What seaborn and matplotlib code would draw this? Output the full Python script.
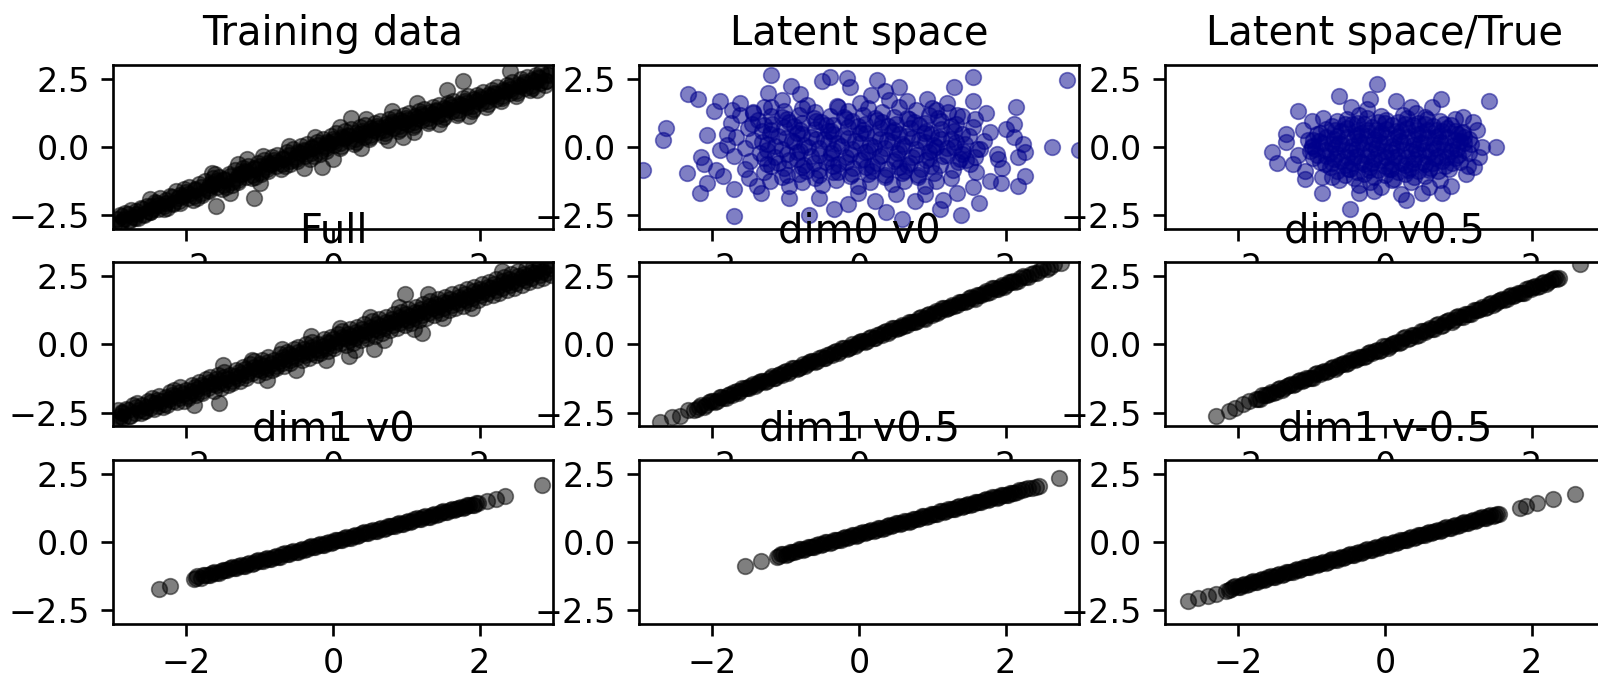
import matplotlib
matplotlib.use("Agg")
import matplotlib.pyplot as plt
import seaborn as sns

titles = ["Training data", "Latent space", "Latent space/True",
          "Full", "dim0 v0", "dim0 v0.5",
          "dim1 v0", "dim1 v0.5", "dim1 v-0.5"]

# observed training pairs (x, y)
training = [
    (-2.98, -2.85), (-2.94, -2.62), (-2.91, -2.48), (-2.83, -2.40), (-2.89, -2.78), (-2.85, -2.62),
    (-2.71, -2.55), (-2.76, -2.30), (-2.78, -2.72), (-2.62, -2.22), (-2.66, -2.60), (-2.68, -2.45),
    (-2.58, -2.48), (-2.54, -2.15), (-2.51, -2.35), (-2.49, -1.91), (-2.43, -2.02), (-2.49, -2.38),
    (-2.45, -2.25), (-2.31, -2.28), (-2.36, -1.85), (-2.38, -2.12), (-2.22, -1.80), (-2.26, -2.22),
    (-2.28, -2.05), (-2.18, -2.10), (-2.14, -1.62), (-2.11, -1.88), (-2.03, -1.55), (-2.09, -2.05),
    (-2.05, -1.78), (-1.91, -1.95), (-1.96, -1.48), (-1.98, -1.72), (-1.82, -1.35), (-1.86, -1.85),
    (-1.88, -1.58), (-1.78, -1.75), (-1.74, -1.25), (-1.71, -1.50), (-1.63, -1.15), (-1.69, -1.62),
    (-1.65, -1.38), (-1.61, -0.99), (-1.59, -2.16), (-1.51, -1.55), (-1.56, -1.08), (-1.58, -1.30),
    (-1.42, -0.98), (-1.46, -1.45), (-1.48, -1.20), (-1.38, -1.38), (-1.34, -0.85), (-1.31, -1.12),
    (-1.23, -0.78), (-1.29, -1.28), (-1.25, -1.00), (-1.17, -0.43), (-1.07, -1.85), (-1.11, -1.15),
    (-1.16, -0.68), (-1.18, -0.92), (-1.02, -0.60), (-1.06, -1.08), (-1.08, -0.82), (-0.98, -0.98),
    (-0.94, -0.48), (-0.91, -0.72), (-0.83, -0.38), (-0.89, -0.88), (-0.85, -0.62), (-0.71, -0.80),
    (-0.76, -0.28), (-0.78, -0.55), (-0.62, -0.20), (-0.66, -0.70), (-0.68, -0.42), (-0.58, -0.62),
    (-0.54, -0.08), (-0.51, -0.35), (-0.43, 0.02), (-0.49, -0.52), (-0.45, -0.22), (-0.31, -0.42),
    (-0.36, 0.12), (-0.38, -0.15), (-0.22, 0.20), (-0.26, -0.32), (-0.28, -0.05), (-0.18, -0.25),
    (-0.14, 0.30), (-0.11, 0.05), (-0.15, -0.74), (-0.03, 0.42), (-0.09, -0.15), (-0.05, 0.15),
    (0.09, -0.05), (0.04, 0.50), (0.02, 0.22), (0.17, 0.58), (0.11, 0.05), (0.15, 0.32),
    (0.24, 1.05), (0.29, 0.12), (0.24, 0.65), (0.21, 0.40), (0.37, 0.72), (0.31, 0.20),
    (0.35, 0.48), (0.49, 0.28), (0.44, 0.80), (0.41, 0.52), (0.57, 0.88), (0.51, 0.35),
    (0.55, 0.62), (0.69, 0.42), (0.64, 0.95), (0.61, 0.70), (0.77, 1.02), (0.71, 0.50),
    (0.75, 0.78), (0.89, 0.58), (0.84, 1.10), (0.81, 0.85), (0.97, 1.18), (0.91, 0.65),
    (0.95, 0.92), (0.95, 0.37), (1.09, 0.72), (1.04, 1.25), (1.01, 1.00), (1.17, 1.32),
    (1.11, 0.80), (1.15, 1.08), (1.29, 0.88), (1.24, 1.40), (1.21, 1.15), (1.37, 1.48),
    (1.31, 0.95), (1.35, 1.22), (1.49, 1.02), (1.44, 1.55), (1.41, 1.30), (1.57, 1.62),
    (1.51, 1.10), (1.55, 1.38), (1.56, 2.10), (1.69, 1.18), (1.64, 1.70), (1.61, 1.45),
    (1.77, 1.78), (1.71, 1.25), (1.75, 1.52), (1.78, 2.41), (1.89, 1.32), (1.84, 1.85),
    (1.81, 1.60), (1.97, 1.92), (1.91, 1.40), (1.95, 1.68), (2.09, 1.48), (2.04, 2.00),
    (2.01, 1.75), (2.17, 2.08), (2.11, 1.58), (2.15, 1.85), (2.29, 1.68), (2.24, 2.18),
    (2.21, 1.95), (2.37, 2.28), (2.31, 1.78), (2.35, 2.05), (2.49, 1.88), (2.44, 2.38),
    (2.41, 2.12), (2.41, 2.78), (2.57, 2.48), (2.51, 1.98), (2.55, 2.22), (2.69, 2.08),
    (2.64, 2.58), (2.61, 2.32), (2.77, 2.65), (2.71, 2.15), (2.75, 2.42), (2.78, 2.10),
    (2.89, 2.28), (2.84, 2.75), (2.81, 2.52), (2.97, 2.82), (2.91, 2.40), (2.95, 2.62),
    (-0.60, 0.05), (-0.25, 0.38), (0.10, 0.72), (0.45, 1.02), (0.80, 1.30), (1.15, 1.60),
    (-0.95, -0.32), (-1.30, -0.62), (-1.65, -0.95), (-0.40, -0.78), (0.00, -0.42), (0.38, -0.05),
    (0.75, 0.25), (1.10, 0.55), (1.45, 0.85), (1.85, 1.15), (-1.00, -1.32), (-1.40, -1.68),
    (-2.90, -2.75), (-2.88, -2.52), (-2.80, -2.45), (-2.78, -2.66), (-2.70, -2.58), (-2.68, -2.35),
    (-2.60, -2.25), (-2.58, -2.46), (-2.50, -2.38), (-2.48, -2.15), (-2.40, -2.05), (-2.38, -2.27),
    (-2.30, -2.17), (-2.28, -1.94), (-2.20, -1.84), (-2.18, -2.06), (-2.10, -1.97), (-2.08, -1.74),
    (-2.00, -1.64), (-1.98, -1.86), (-1.90, -1.78), (-1.88, -1.55), (-1.80, -1.45), (-1.78, -1.67),
    (-1.70, -1.58), (-1.68, -1.35), (-1.60, -1.26), (-1.58, -1.48), (-1.50, -1.39), (-1.48, -1.16),
    (-1.40, -1.06), (-1.38, -1.28), (-1.30, -1.20), (-1.28, -0.97), (-1.20, -0.87), (-1.18, -1.09),
    (-1.10, -1.01), (-1.08, -0.78), (-1.00, -0.68), (-0.98, -0.90), (-0.90, -0.81), (-0.88, -0.58),
    (-0.80, -0.49), (-0.78, -0.71), (-0.70, -0.62), (-0.68, -0.39), (-0.60, -0.29), (-0.58, -0.51),
    (-0.50, -0.43), (-0.48, -0.20), (-0.40, -0.10), (-0.38, -0.32), (-0.30, -0.23), (-0.28, 0.00),
    (-0.20, 0.09), (-0.18, -0.13), (-0.10, -0.04), (-0.08, 0.19), (0.00, 0.29), (0.02, 0.07),
    (0.10, 0.14), (0.12, 0.37), (0.20, 0.45), (0.22, 0.23), (0.30, 0.30), (0.32, 0.53),
    (0.40, 0.60), (0.42, 0.38), (0.50, 0.45), (0.52, 0.68), (0.60, 0.76), (0.62, 0.54),
    (0.70, 0.61), (0.72, 0.84), (0.80, 0.91), (0.82, 0.69), (0.90, 0.76), (0.92, 0.99),
    (1.00, 1.07), (1.02, 0.85), (1.10, 0.91), (1.12, 1.14), (1.20, 1.22), (1.22, 1.00),
    (1.30, 1.06), (1.32, 1.29), (1.40, 1.37), (1.42, 1.15), (1.50, 1.21), (1.52, 1.44),
    (1.60, 1.52), (1.62, 1.30), (1.70, 1.36), (1.72, 1.59), (1.80, 1.67), (1.82, 1.45),
    (1.90, 1.51), (1.92, 1.74), (2.00, 1.82), (2.02, 1.60), (2.10, 1.67), (2.12, 1.90),
    (2.20, 1.99), (2.22, 1.77), (2.30, 1.86), (2.32, 2.09), (2.40, 2.18), (2.42, 1.96),
    (2.50, 2.05), (2.52, 2.28), (2.60, 2.37), (2.62, 2.15), (2.70, 2.24), (2.72, 2.47),
    (2.80, 2.56), (2.82, 2.34), (2.90, 2.43), (2.92, 2.66),
]

# encoded latent codes (z0, z1)
latent = [
    (-1.20, 1.47), (-0.78, 1.42), (-0.30, 1.50), (0.12, 1.44), (0.55, 1.48), (1.00, 1.41),
    (-1.45, 1.28), (-1.02, 1.33), (-0.60, 1.27), (-0.15, 1.32), (0.32, 1.29), (0.78, 1.34), (1.22, 1.27),
    (-1.62, 1.17), (-1.20, 1.12), (-0.82, 1.18), (-0.40, 1.13), (0.05, 1.16), (0.48, 1.11), (0.95, 1.18), (1.40, 1.14),
    (-1.38, 0.98), (-0.98, 1.03), (-0.58, 0.97), (-0.18, 1.02), (0.25, 0.99), (0.68, 1.04), (1.12, 0.97), (1.58, 1.01),
    (-1.75, 0.87), (-1.18, 0.83), (-0.78, 0.88), (-0.35, 0.82), (0.08, 0.86), (0.50, 0.84), (0.90, 0.88), (1.32, 0.83),
    (-1.52, 0.68), (-1.02, 0.72), (-0.60, 0.67), (-0.15, 0.73), (0.28, 0.69), (0.70, 0.71), (1.12, 0.66), (1.55, 0.72),
    (-1.32, 0.57), (-0.85, 0.53), (-0.42, 0.58), (0.02, 0.52), (0.45, 0.56), (0.88, 0.53), (1.30, 0.58), (1.78, 0.54),
    (-1.68, 0.38), (-1.10, 0.42), (-0.65, 0.37), (-0.22, 0.43), (0.22, 0.39), (0.65, 0.41), (1.08, 0.36), (1.50, 0.42),
    (-1.45, 0.27), (-0.92, 0.23), (-0.48, 0.28), (-0.05, 0.22), (0.38, 0.26), (0.82, 0.24), (1.25, 0.28), (1.70, 0.23),
    (-1.80, 0.08), (-1.25, 0.12), (-0.75, 0.07), (-0.30, 0.13), (0.15, 0.09), (0.58, 0.11), (1.02, 0.06), (1.45, 0.12),
    (-1.55, -0.03), (-1.05, -0.08), (-0.55, -0.02), (-0.10, -0.07), (0.35, -0.04), (0.78, -0.08), (1.20, -0.03), (1.65, -0.06),
    (-1.35, -0.22), (-0.85, -0.18), (-0.38, -0.23), (0.08, -0.17), (0.52, -0.21), (0.95, -0.19), (1.40, -0.24),
    (-1.70, -0.33), (-1.15, -0.37), (-0.65, -0.32), (-0.18, -0.38), (0.28, -0.34), (0.72, -0.36), (1.15, -0.31), (1.58, -0.37),
    (-1.48, -0.52), (-0.95, -0.48), (-0.45, -0.53), (0.02, -0.47), (0.48, -0.51), (0.92, -0.49), (1.35, -0.54),
    (-1.25, -0.63), (-0.75, -0.67), (-0.28, -0.62), (0.18, -0.68), (0.65, -0.64), (1.10, -0.66), (1.52, -0.61),
    (-1.55, -0.82), (-1.02, -0.78), (-0.55, -0.83), (-0.08, -0.77), (0.38, -0.81), (0.85, -0.79), (1.28, -0.84),
    (-1.30, -0.93), (-0.82, -0.97), (-0.35, -0.92), (0.12, -0.98), (0.58, -0.94), (1.02, -0.96),
    (-1.50, -1.12), (-1.05, -1.08), (-0.60, -1.13), (-0.12, -1.07), (0.35, -1.11), (0.80, -1.09), (1.25, -1.14),
    (-1.22, -1.23), (-0.78, -1.27), (-0.32, -1.22), (0.15, -1.28), (0.62, -1.24), (1.05, -1.26),
    (-0.95, -1.42), (-0.50, -1.38), (-0.02, -1.43), (0.45, -1.37), (0.90, -1.41),
    (-0.95, 0.93), (-0.52, 0.90), (-0.10, 0.94), (0.32, 0.91), (0.75, 0.92),
    (-1.20, 0.61), (-0.80, 0.64), (-0.38, 0.60), (0.05, 0.63), (0.48, 0.62), (0.92, 0.60),
    (-1.00, 0.33), (-0.58, 0.30), (-0.15, 0.34), (0.28, 0.31), (0.72, 0.32), (1.12, 0.30),
    (-1.15, 0.03), (-0.70, 0.00), (-0.25, 0.04), (0.20, 0.01), (0.62, 0.02), (1.05, 0.00),
    (-0.98, -0.27), (-0.55, -0.30), (-0.12, -0.26), (0.32, -0.29), (0.78, -0.28), (1.20, -0.30),
    (-1.10, -0.57), (-0.62, -0.60), (-0.18, -0.56), (0.25, -0.59), (0.70, -0.58),
    (-0.72, -0.87), (-0.28, -0.90), (0.18, -0.86), (0.62, -0.89),
    (-1.05, 1.09), (-0.62, 1.07), (-0.20, 1.10), (0.22, 1.06), (0.65, 1.08), (1.08, 1.07),
    (-1.30, 0.79), (-0.88, 0.77), (-0.45, 0.80), (-0.02, 0.76), (0.40, 0.78), (0.82, 0.80), (1.25, 0.77),
    (-1.22, 0.47), (-0.78, 0.49), (-0.35, 0.46), (0.10, 0.50), (0.55, 0.47), (0.98, 0.49), (1.40, 0.46),
    (-1.32, 0.19), (-0.88, 0.17), (-0.42, 0.20), (0.02, 0.16), (0.45, 0.18), (0.90, 0.20), (1.32, 0.17),
    (-1.25, -0.11), (-0.80, -0.13), (-0.35, -0.10), (0.12, -0.14), (0.55, -0.12), (1.00, -0.10), (1.42, -0.13),
    (-1.30, -0.41), (-0.85, -0.43), (-0.40, -0.40), (0.05, -0.44), (0.50, -0.42), (0.95, -0.40), (1.38, -0.43),
    (-1.20, -0.71), (-0.78, -0.73), (-0.35, -0.70), (0.10, -0.74), (0.55, -0.72), (0.98, -0.70),
    (-0.98, -1.01), (-0.55, -1.03), (-0.10, -1.00), (0.35, -1.04), (0.80, -1.02),
    (-1.20, 2.65), (-2.33, 1.94), (-2.20, 1.75), (-2.63, 0.70), (-2.67, 0.25), (-2.94, -0.83),
    (-2.07, 0.43), (-2.15, -0.37), (-2.12, -0.62), (-2.17, -1.70), (-2.07, -1.30), (-1.71, -1.54),
    (-1.71, -2.51), (-1.90, 1.67), (-1.98, 1.30), (-1.73, 1.36), (-1.80, 0.49), (-1.90, -0.12),
    (-1.24, 1.98), (-1.05, 1.73), (-0.93, 2.22), (-0.51, 2.41), (-0.39, 2.57), (-0.17, 2.51),
    (-0.12, 2.20), (0.24, 2.47), (0.54, 2.20), (0.93, 1.75), (1.29, 2.20), (1.55, 2.57),
    (1.56, 1.67), (1.73, 1.23), (2.14, 1.48), (2.11, 0.86), (2.12, 0.37), (2.24, 0.12),
    (2.26, -0.19), (2.17, -0.37), (2.26, -1.07), (2.17, -1.42), (2.63, 0.00), (2.83, 2.47),
    (3.00, -0.12), (1.63, -2.06), (1.39, -2.47), (1.10, -2.28), (0.59, -2.65), (0.37, -2.38),
    (-0.15, -2.10), (-0.34, -2.28), (-0.68, -2.47), (-0.95, -1.85), (-1.39, -1.42), (-1.34, -1.67),
    (1.88, -0.25), (1.90, -0.43), (1.59, -0.93), (1.78, -1.23), (1.93, -1.30), (1.34, -1.67),
    (1.56, -1.48), (0.51, -1.73), (0.90, -1.73), (-0.02, -1.67), (0.22, -1.98), (0.76, -1.98),
    (1.61, -0.06), (1.46, -0.49), (1.29, 0.00), (1.20, 1.60), (1.34, 1.17), (1.05, 1.36),
    (0.66, 1.67), (0.41, 1.73), (0.17, 1.91), (0.02, 1.60), (-0.29, 1.48), (-0.71, 1.54),
    (-1.44, 1.23), (-1.29, 1.48), (-1.46, 0.86), (-1.95, -0.85), (-2.35, -0.95), (-1.85, -1.05),
    (2.00, 0.65), (1.95, -0.75), (-0.55, -1.85), (1.15, -1.95), (-1.62, 1.62), (0.35, 2.05),
    (-0.80, 1.95),
]

# samples from the standard normal prior
prior = [
    (-0.35, 1.18), (-0.05, 1.13), (0.25, 1.19), (0.55, 1.11),
    (-0.52, 1.03), (-0.25, 1.05), (0.02, 1.00), (0.30, 1.06), (0.58, 1.01),
    (-0.65, 0.95), (-0.38, 0.87), (-0.10, 0.91), (0.18, 0.93), (0.45, 0.88), (0.75, 0.94),
    (-0.72, 0.77), (-0.45, 0.83), (-0.18, 0.75), (0.10, 0.79), (0.38, 0.81), (0.65, 0.76), (0.90, 0.82),
    (-0.80, 0.65), (-0.52, 0.71), (-0.25, 0.63), (0.02, 0.67), (0.30, 0.69), (0.58, 0.64), (0.85, 0.70),
    (-0.88, 0.53), (-0.60, 0.59), (-0.32, 0.51), (-0.05, 0.55), (0.22, 0.57), (0.50, 0.52), (0.78, 0.58), (1.05, 0.53),
    (-0.92, 0.47), (-0.65, 0.39), (-0.38, 0.43), (-0.10, 0.45), (0.18, 0.40), (0.45, 0.46), (0.72, 0.41), (1.00, 0.47),
    (-0.98, 0.27), (-0.70, 0.31), (-0.42, 0.33), (-0.15, 0.28), (0.12, 0.34), (0.40, 0.29), (0.68, 0.35), (0.95, 0.27), (1.15, 0.31),
    (-0.90, 0.21), (-0.62, 0.16), (-0.35, 0.22), (-0.08, 0.17), (0.20, 0.23), (0.48, 0.15), (0.75, 0.19), (1.02, 0.21),
    (-1.00, 0.04), (-0.72, 0.10), (-0.45, 0.05), (-0.18, 0.11), (0.10, 0.03), (0.38, 0.07), (0.65, 0.09), (0.92, 0.04), (1.18, 0.10),
    (-0.95, -0.07), (-0.68, -0.01), (-0.40, -0.09), (-0.12, -0.05), (0.15, -0.03), (0.42, -0.08), (0.70, -0.02), (0.98, -0.07),
    (-1.02, -0.13), (-0.75, -0.21), (-0.48, -0.17), (-0.20, -0.15), (0.08, -0.20), (0.35, -0.14), (0.62, -0.19), (0.90, -0.13), (1.15, -0.21),
    (-0.92, -0.29), (-0.65, -0.27), (-0.38, -0.32), (-0.10, -0.26), (0.18, -0.31), (0.45, -0.25), (0.72, -0.33), (1.00, -0.29),
    (-0.98, -0.39), (-0.70, -0.44), (-0.42, -0.38), (-0.15, -0.43), (0.12, -0.37), (0.40, -0.45), (0.68, -0.41), (0.95, -0.39),
    (-0.88, -0.56), (-0.60, -0.50), (-0.32, -0.55), (-0.05, -0.49), (0.22, -0.57), (0.50, -0.53), (0.78, -0.51), (1.02, -0.56),
    (-0.82, -0.62), (-0.55, -0.67), (-0.28, -0.61), (0.00, -0.69), (0.28, -0.65), (0.55, -0.63), (0.82, -0.68),
    (-0.75, -0.74), (-0.48, -0.79), (-0.20, -0.73), (0.08, -0.81), (0.35, -0.77), (0.62, -0.75), (0.88, -0.80),
    (-0.65, -0.86), (-0.38, -0.91), (-0.10, -0.85), (0.18, -0.93), (0.45, -0.89), (0.72, -0.87),
    (-0.55, -1.04), (-0.28, -0.98), (0.00, -1.03), (0.28, -0.97), (0.55, -1.05),
    (-0.42, -1.13), (-0.15, -1.11), (0.12, -1.16), (0.40, -1.10),
    (-0.20, -1.27), (0.10, -1.21), (0.35, -1.29),
    (-0.55, 0.86), (-0.28, 0.84), (0.00, 0.87), (0.28, 0.85), (0.55, 0.83), (0.80, 0.86),
    (-0.68, 0.62), (-0.40, 0.60), (-0.12, 0.63), (0.15, 0.59), (0.42, 0.61), (0.70, 0.62), (0.95, 0.60),
    (-0.80, 0.38), (-0.52, 0.36), (-0.25, 0.39), (0.02, 0.35), (0.30, 0.37), (0.58, 0.38), (0.85, 0.36), (1.08, 0.38),
    (-0.85, 0.14), (-0.58, 0.12), (-0.30, 0.15), (-0.02, 0.11), (0.25, 0.13), (0.52, 0.14), (0.80, 0.12), (1.08, 0.14),
    (-0.82, -0.10), (-0.55, -0.12), (-0.28, -0.09), (0.00, -0.13), (0.28, -0.11), (0.55, -0.10), (0.82, -0.12), (1.08, -0.10),
    (-0.80, -0.34), (-0.52, -0.36), (-0.25, -0.33), (0.02, -0.37), (0.30, -0.35), (0.58, -0.34), (0.85, -0.36),
    (-0.72, -0.58), (-0.45, -0.60), (-0.18, -0.57), (0.10, -0.61), (0.38, -0.59), (0.65, -0.58), (0.92, -0.60),
    (-0.50, -0.82), (-0.22, -0.84), (0.05, -0.81), (0.32, -0.85), (0.60, -0.83),
    (-1.12, 0.62), (-1.18, -0.30), (1.25, 0.62), (1.28, -0.38), (0.95, 1.02), (-0.85, 1.05),
    (-0.62, -1.20), (0.75, -1.22), (1.20, 0.92), (-1.00, 0.95), (0.35, 1.45), (-0.25, 1.40),
    (0.60, -1.45), (-0.35, -1.38), (1.22, -0.72), (-1.25, -0.62),
    (-0.11, 2.32), (-0.62, 1.85), (1.42, 1.67), (0.76, 1.77), (-1.19, 1.33), (-1.35, 0.49),
    (-1.35, 0.19), (-1.54, -0.19), (-1.47, -0.59), (-1.09, -0.86), (-1.09, -1.17), (-0.86, -1.70),
    (-0.47, -2.25), (-0.35, -1.70), (-0.15, -1.60), (0.29, -1.95), (0.50, -1.70), (0.78, -1.70),
    (0.90, -1.42), (1.11, -0.99), (1.14, -0.70), (1.32, 0.00), (1.51, 0.00), (1.07, 1.09),
    (1.07, 0.56), (0.64, 1.48), (0.15, 1.67), (-0.20, 1.75), (-0.46, 1.48), (0.43, 1.23),
    (0.22, -1.73), (-0.06, -1.48), (-0.72, -1.11), (-0.86, -1.09), (-1.00, 0.00), (-1.05, 0.25),
]

# full reconstruction
full = [
    (-2.93, -2.40), (-2.97, -2.85), (-2.90, -2.60), (-2.86, -2.70), (-2.82, -2.35), (-2.88, -2.52),
    (-2.73, -2.22), (-2.77, -2.62), (-2.62, -2.50), (-2.67, -2.15), (-2.64, -2.38),
    (-2.57, -2.45), (-2.52, -2.05), (-2.55, -2.28), (-2.44, -2.37), (-2.47, -1.95), (-2.42, -2.15),
    (-2.32, -2.30), (-2.37, -1.88), (-2.34, -2.06), (-2.22, -1.75), (-2.27, -2.20), (-2.24, -1.98),
    (-2.17, -1.65), (-2.13, -2.12), (-2.15, -1.90), (-2.03, -2.05), (-2.08, -1.55), (-2.05, -1.80),
    (-1.92, -1.48), (-1.97, -1.95), (-1.94, -1.70), (-1.87, -1.85), (-1.83, -1.38), (-1.85, -1.62),
    (-1.73, -1.28), (-1.78, -1.78), (-1.75, -1.52), (-1.62, -1.70), (-1.67, -1.18), (-1.64, -1.45),
    (-1.57, -1.10), (-1.53, -1.58), (-1.56, -2.13), (-1.55, -1.35), (-1.43, -1.50), (-1.48, -1.00),
    (-1.45, -1.25), (-1.32, -0.92), (-1.37, -1.40), (-1.34, -1.15), (-1.27, -1.32), (-1.23, -0.82),
    (-1.25, -1.08), (-1.13, -0.72), (-1.18, -1.22), (-1.15, -0.98), (-1.02, -1.12), (-1.07, -0.62),
    (-1.04, -0.88), (-0.97, -0.55), (-0.93, -1.02), (-0.95, -0.80), (-0.83, -0.95), (-0.88, -0.45),
    (-0.85, -0.70), (-0.72, -0.35), (-0.77, -0.85), (-0.74, -0.60), (-0.67, -0.78), (-0.63, -0.28),
    (-0.65, -0.52), (-0.53, -0.18), (-0.58, -0.68), (-0.55, -0.42), (-0.42, -0.58), (-0.47, -0.08),
    (-0.44, -0.34), (-0.37, 0.02), (-0.33, -0.48), (-0.35, -0.25), (-0.23, -0.40), (-0.28, 0.10),
    (-0.25, -0.15), (-0.12, 0.20), (-0.17, -0.30), (-0.14, -0.05), (-0.07, -0.22), (-0.03, 0.28),
    (-0.05, 0.04), (0.07, 0.38), (0.02, -0.12), (0.05, 0.12), (0.18, -0.02), (0.13, 0.48),
    (0.16, 0.22), (0.22, -0.43), (0.23, 0.55), (0.27, 0.05), (0.25, 0.32), (0.38, 0.15),
    (0.33, 0.65), (0.36, 0.40), (0.43, 0.75), (0.47, 0.25), (0.45, 0.50), (0.58, 0.32),
    (0.53, 0.85), (0.56, 0.58), (0.56, -0.18), (0.63, 0.92), (0.67, 0.42), (0.65, 0.68),
    (0.78, 0.52), (0.73, 1.02), (0.76, 0.78), (0.83, 1.10), (0.87, 0.60), (0.85, 0.85),
    (0.98, 0.70), (0.93, 1.20), (0.96, 0.95), (0.98, 1.83), (1.03, 1.30), (1.07, 0.80),
    (1.05, 1.05), (1.18, 0.88), (1.13, 1.38), (1.16, 1.14), (1.23, 1.48), (1.27, 0.98),
    (1.25, 1.22), (1.22, 0.43), (1.38, 1.08), (1.33, 1.58), (1.36, 1.32), (1.43, 1.65),
    (1.47, 1.15), (1.45, 1.42), (1.58, 1.25), (1.53, 1.75), (1.56, 1.50), (1.63, 1.85),
    (1.67, 1.35), (1.65, 1.60), (1.78, 1.42), (1.73, 1.92), (1.76, 1.68), (1.83, 2.02),
    (1.87, 1.52), (1.85, 1.78), (1.98, 1.62), (1.93, 2.12), (1.96, 1.88), (2.03, 2.22),
    (2.07, 1.72), (2.05, 1.96), (2.18, 1.80), (2.13, 2.30), (2.16, 2.05), (2.23, 2.40),
    (2.27, 1.90), (2.25, 2.15), (2.38, 2.00), (2.33, 2.48), (2.36, 2.25), (2.43, 2.58),
    (2.47, 2.08), (2.45, 2.32), (2.58, 2.18), (2.53, 2.68), (2.56, 2.42), (2.63, 2.78),
    (2.67, 2.28), (2.65, 2.52), (2.78, 2.35), (2.73, 2.85), (2.76, 2.62), (2.83, 2.95),
    (2.87, 2.45), (2.85, 2.70), (2.98, 2.55), (2.93, 2.92), (2.96, 2.80),
    (-1.10, -0.55), (-0.70, -0.15), (-0.30, 0.30), (0.10, 0.62), (0.50, 1.00), (0.90, 1.38),
    (-0.90, -1.30), (-0.50, -0.92), (-0.10, -0.55), (0.30, -0.20), (0.70, 0.18), (1.10, 0.55),
    (1.50, 0.98), (1.90, 1.35), (-1.50, -0.75), (-1.90, -2.20), (1.30, 1.85), (2.30, 2.70),
    (-2.90, -2.70), (-2.88, -2.47), (-2.80, -2.39), (-2.78, -2.61), (-2.70, -2.52), (-2.68, -2.29),
    (-2.60, -2.20), (-2.58, -2.42), (-2.50, -2.34), (-2.48, -2.11), (-2.40, -2.02), (-2.38, -2.24),
    (-2.30, -2.16), (-2.28, -1.93), (-2.20, -1.83), (-2.18, -2.05), (-2.10, -1.97), (-2.08, -1.74),
    (-2.00, -1.65), (-1.98, -1.87), (-1.90, -1.79), (-1.88, -1.56), (-1.80, -1.47), (-1.78, -1.69),
    (-1.70, -1.60), (-1.68, -1.37), (-1.60, -1.28), (-1.58, -1.50), (-1.50, -1.42), (-1.48, -1.19),
    (-1.40, -1.10), (-1.38, -1.32), (-1.30, -1.24), (-1.28, -1.01), (-1.20, -0.91), (-1.18, -1.13),
    (-1.10, -1.05), (-1.08, -0.82), (-1.00, -0.73), (-0.98, -0.95), (-0.90, -0.87), (-0.88, -0.64),
    (-0.80, -0.55), (-0.78, -0.77), (-0.70, -0.68), (-0.68, -0.45), (-0.60, -0.36), (-0.58, -0.58),
    (-0.50, -0.50), (-0.48, -0.27), (-0.40, -0.18), (-0.38, -0.40), (-0.30, -0.32), (-0.28, -0.09),
    (-0.20, 0.01), (-0.18, -0.21), (-0.10, -0.13), (-0.08, 0.10), (0.00, 0.19), (0.02, -0.03),
    (0.10, 0.05), (0.12, 0.28), (0.20, 0.37), (0.22, 0.15), (0.30, 0.24), (0.32, 0.47),
    (0.40, 0.56), (0.42, 0.34), (0.50, 0.42), (0.52, 0.65), (0.60, 0.74), (0.62, 0.52),
    (0.70, 0.60), (0.72, 0.83), (0.80, 0.93), (0.82, 0.71), (0.90, 0.79), (0.92, 1.02),
    (1.00, 1.11), (1.02, 0.89), (1.10, 0.97), (1.12, 1.20), (1.20, 1.29), (1.22, 1.07),
    (1.30, 1.16), (1.32, 1.39), (1.40, 1.48), (1.42, 1.26), (1.50, 1.34), (1.52, 1.57),
    (1.60, 1.66), (1.62, 1.44), (1.70, 1.52), (1.72, 1.75), (1.80, 1.85), (1.82, 1.63),
    (1.90, 1.71), (1.92, 1.94), (2.00, 2.03), (2.02, 1.81), (2.10, 1.89), (2.12, 2.12),
    (2.20, 2.21), (2.22, 1.99), (2.30, 2.08), (2.32, 2.31), (2.40, 2.40), (2.42, 2.18),
    (2.50, 2.26), (2.52, 2.49), (2.60, 2.58), (2.62, 2.36), (2.70, 2.44), (2.72, 2.67),
    (2.80, 2.77), (2.82, 2.55), (2.90, 2.63), (2.92, 2.86),
]

# decoder sweeps along one latent dimension
dim0_v0 = [
    (-2.71, -2.85), (-2.55, -2.65), (-2.44, -2.60), (-2.33, -2.38), (-2.25, -2.38), (-2.18, -2.28),
    (-2.12, -2.27), (-2.05, -2.10), (-1.99, -2.07), (-1.93, -2.05), (-1.88, -1.91), (-1.82, -1.96),
    (-1.76, -1.81), (-1.70, -1.74), (-1.65, -1.76), (-1.59, -1.59), (-1.53, -1.61), (-1.48, -1.53),
    (-1.42, -1.52), (-1.36, -1.37), (-1.31, -1.34), (-1.25, -1.32), (-1.19, -1.17), (-1.14, -1.23),
    (-1.08, -1.09), (-1.02, -1.01), (-0.97, -1.03), (-0.91, -0.86), (-0.85, -0.88), (-0.80, -0.81),
    (-0.74, -0.79), (-0.68, -0.64), (-0.63, -0.61), (-0.57, -0.59), (-0.51, -0.45), (-0.46, -0.50),
    (-0.40, -0.36), (-0.34, -0.28), (-0.29, -0.30), (-0.23, -0.14), (-0.17, -0.15), (-0.12, -0.08),
    (-0.06, -0.06), (0.00, 0.09), (0.05, 0.11), (0.11, 0.14), (0.17, 0.28), (0.22, 0.23),
    (0.28, 0.37), (0.34, 0.44), (0.39, 0.43), (0.45, 0.59), (0.51, 0.58), (0.56, 0.65),
    (0.62, 0.66), (0.68, 0.82), (0.73, 0.84), (0.79, 0.87), (0.85, 1.01), (0.90, 0.95),
    (0.96, 1.10), (1.02, 1.17), (1.07, 1.15), (1.13, 1.32), (1.19, 1.30), (1.24, 1.38),
    (1.30, 1.39), (1.36, 1.55), (1.41, 1.57), (1.47, 1.59), (1.53, 1.74), (1.58, 1.68),
    (1.64, 1.82), (1.70, 1.90), (1.75, 1.88), (1.81, 2.05), (1.87, 2.03), (1.92, 2.10),
    (1.98, 2.12), (2.04, 2.27), (2.10, 2.31), (2.17, 2.34), (2.24, 2.50), (2.31, 2.46),
    (2.39, 2.63), (2.47, 2.72), (2.56, 2.75), (2.66, 2.96), (2.75, 2.97),
    (-2.21, -2.35), (-2.15, -2.20), (-2.08, -2.20), (-2.02, -2.08), (-1.96, -2.09), (-1.90, -1.93),
    (-1.85, -1.95), (-1.79, -1.84), (-1.73, -1.84), (-1.67, -1.69), (-1.62, -1.70), (-1.56, -1.59),
    (-1.50, -1.60), (-1.45, -1.45), (-1.39, -1.46), (-1.33, -1.34), (-1.28, -1.36), (-1.22, -1.21),
    (-1.16, -1.21), (-1.11, -1.11), (-1.05, -1.11), (-0.99, -0.96), (-0.94, -0.98), (-0.88, -0.86),
    (-0.82, -0.87), (-0.77, -0.72), (-0.71, -0.73), (-0.65, -0.62), (-0.60, -0.63), (-0.54, -0.48),
    (-0.48, -0.48), (-0.43, -0.38), (-0.37, -0.39), (-0.31, -0.23), (-0.26, -0.25), (-0.20, -0.13),
    (-0.14, -0.14), (-0.09, 0.00), (-0.03, 0.00), (0.03, 0.11), (0.08, 0.10), (0.14, 0.25),
    (0.20, 0.24), (0.25, 0.35), (0.31, 0.34), (0.37, 0.50), (0.42, 0.48), (0.48, 0.59),
    (0.54, 0.59), (0.59, 0.73), (0.65, 0.73), (0.71, 0.84), (0.76, 0.82), (0.82, 0.98),
    (0.88, 0.97), (0.93, 1.08), (0.99, 1.07), (1.05, 1.22), (1.10, 1.21), (1.16, 1.32),
    (1.22, 1.32), (1.27, 1.46), (1.33, 1.45), (1.39, 1.57), (1.44, 1.55), (1.50, 1.71),
    (1.56, 1.70), (1.61, 1.80), (1.67, 1.80), (1.73, 1.95), (1.78, 1.93), (1.84, 2.05),
    (1.90, 2.04), (1.95, 2.19), (2.01, 2.18), (2.07, 2.29), (2.13, 2.29), (2.20, 2.45),
    (2.27, 2.46), (2.35, 2.59), (2.43, 2.61), (2.51, 2.79), (2.61, 2.82),
]

dim0_v05 = [
    (-2.31, -2.62), (-2.13, -2.44), (-2.05, -2.33), (-1.93, -2.16), (-1.85, -2.07), (-1.76, -1.98),
    (-1.70, -1.99), (-1.64, -1.83), (-1.58, -1.80), (-1.52, -1.77), (-1.46, -1.63), (-1.40, -1.67),
    (-1.34, -1.53), (-1.28, -1.45), (-1.22, -1.46), (-1.16, -1.29), (-1.10, -1.31), (-1.04, -1.22),
    (-0.98, -1.21), (-0.92, -1.05), (-0.86, -1.02), (-0.80, -0.99), (-0.74, -0.85), (-0.68, -0.89),
    (-0.62, -0.75), (-0.56, -0.67), (-0.50, -0.68), (-0.44, -0.52), (-0.38, -0.53), (-0.32, -0.45),
    (-0.26, -0.43), (-0.20, -0.28), (-0.14, -0.24), (-0.08, -0.22), (-0.02, -0.07), (0.04, -0.12),
    (0.10, 0.03), (0.16, 0.10), (0.22, 0.10), (0.28, 0.26), (0.34, 0.25), (0.40, 0.33),
    (0.46, 0.35), (0.52, 0.50), (0.58, 0.54), (0.64, 0.56), (0.70, 0.71), (0.76, 0.66),
    (0.82, 0.81), (0.88, 0.88), (0.94, 0.88), (1.00, 1.04), (1.06, 1.02), (1.12, 1.11),
    (1.18, 1.12), (1.24, 1.28), (1.30, 1.31), (1.36, 1.34), (1.42, 1.48), (1.48, 1.44),
    (1.54, 1.58), (1.60, 1.66), (1.66, 1.65), (1.72, 1.82), (1.78, 1.80), (1.84, 1.89),
    (1.90, 1.90), (1.96, 2.06), (2.02, 2.09), (2.08, 2.12), (2.14, 2.26), (2.20, 2.22),
    (2.26, 2.36), (2.32, 2.44), (2.38, 2.45), (2.66, 2.93),
    (-1.73, -2.01), (-1.67, -1.85), (-1.61, -1.86), (-1.55, -1.74), (-1.49, -1.75), (-1.43, -1.59),
    (-1.37, -1.60), (-1.31, -1.48), (-1.25, -1.49), (-1.19, -1.34), (-1.13, -1.34), (-1.07, -1.23),
    (-1.01, -1.23), (-0.95, -1.08), (-0.89, -1.08), (-0.83, -0.97), (-0.77, -0.97), (-0.71, -0.82),
    (-0.65, -0.82), (-0.59, -0.71), (-0.53, -0.71), (-0.47, -0.56), (-0.41, -0.56), (-0.35, -0.45),
    (-0.29, -0.45), (-0.23, -0.30), (-0.17, -0.30), (-0.11, -0.19), (-0.05, -0.19), (0.01, -0.04),
    (0.07, -0.04), (0.13, 0.07), (0.19, 0.07), (0.25, 0.22), (0.31, 0.21), (0.37, 0.33),
    (0.43, 0.32), (0.49, 0.48), (0.55, 0.47), (0.61, 0.59), (0.67, 0.58), (0.73, 0.74),
    (0.79, 0.73), (0.85, 0.85), (0.91, 0.84), (0.97, 1.00), (1.03, 0.99), (1.09, 1.11),
    (1.15, 1.10), (1.21, 1.26), (1.27, 1.25), (1.33, 1.37), (1.39, 1.36), (1.45, 1.52),
    (1.51, 1.51), (1.57, 1.63), (1.63, 1.62), (1.69, 1.78), (1.75, 1.77), (1.81, 1.88),
    (1.87, 1.88), (1.93, 2.03), (1.99, 2.03), (2.05, 2.14), (2.11, 2.14), (2.17, 2.29),
    (2.23, 2.29), (2.29, 2.40), (2.35, 2.40),
]

dim1_v0 = [
    (-2.37, -1.73), (-2.22, -1.60), (-1.90, -1.36), (-1.85, -1.26), (-1.80, -1.30), (-1.74, -1.19),
    (-1.68, -1.20), (-1.62, -1.09), (-1.56, -1.12), (-1.50, -1.02), (-1.44, -1.04), (-1.38, -0.93),
    (-1.32, -0.95), (-1.26, -0.85), (-1.20, -0.87), (-1.14, -0.76), (-1.08, -0.78), (-1.02, -0.67),
    (-0.96, -0.70), (-0.90, -0.59), (-0.84, -0.61), (-0.78, -0.50), (-0.72, -0.53), (-0.66, -0.42),
    (-0.60, -0.44), (-0.54, -0.33), (-0.48, -0.35), (-0.42, -0.25), (-0.36, -0.27), (-0.30, -0.16),
    (-0.24, -0.18), (-0.18, -0.08), (-0.12, -0.10), (-0.06, 0.01), (0.00, -0.01), (0.06, 0.09),
    (0.12, 0.08), (0.18, 0.18), (0.24, 0.16), (0.30, 0.26), (0.36, 0.25), (0.42, 0.35),
    (0.48, 0.33), (0.54, 0.43), (0.60, 0.42), (0.66, 0.52), (0.72, 0.50), (0.78, 0.60),
    (0.84, 0.59), (0.90, 0.69), (0.96, 0.67), (1.02, 0.78), (1.08, 0.76), (1.14, 0.87),
    (1.20, 0.85), (1.26, 0.95), (1.32, 0.93), (1.38, 1.04), (1.44, 1.02), (1.50, 1.12),
    (1.56, 1.11), (1.62, 1.21), (1.68, 1.20), (1.74, 1.29), (1.80, 1.28), (1.86, 1.37),
    (1.92, 1.36), (1.98, 1.44), (2.10, 1.51), (2.22, 1.59), (2.34, 1.68), (2.85, 2.10),
    (-1.87, -1.33), (-1.77, -1.22), (-1.71, -1.21), (-1.65, -1.13), (-1.59, -1.13), (-1.53, -1.05),
    (-1.47, -1.04), (-1.41, -0.96), (-1.35, -0.96), (-1.29, -0.88), (-1.23, -0.87), (-1.17, -0.79),
    (-1.11, -0.79), (-1.05, -0.71), (-0.99, -0.70), (-0.93, -0.62), (-0.87, -0.62), (-0.81, -0.54),
    (-0.75, -0.53), (-0.69, -0.45), (-0.63, -0.45), (-0.57, -0.36), (-0.51, -0.36), (-0.45, -0.28),
    (-0.39, -0.28), (-0.33, -0.19), (-0.27, -0.19), (-0.21, -0.11), (-0.15, -0.11), (-0.09, -0.02),
    (-0.03, -0.02), (0.03, 0.06), (0.09, 0.06), (0.15, 0.15), (0.21, 0.15), (0.27, 0.23),
    (0.33, 0.23), (0.39, 0.32), (0.45, 0.32), (0.51, 0.40), (0.57, 0.40), (0.63, 0.49),
    (0.69, 0.49), (0.75, 0.57), (0.81, 0.58), (0.87, 0.66), (0.93, 0.66), (0.99, 0.74),
    (1.05, 0.75), (1.11, 0.83), (1.17, 0.83), (1.23, 0.91), (1.29, 0.92), (1.35, 1.00),
    (1.41, 1.00), (1.47, 1.08), (1.53, 1.09), (1.59, 1.17), (1.65, 1.17), (1.71, 1.25),
    (1.77, 1.26), (1.83, 1.34), (1.89, 1.34), (1.95, 1.42),
]

dim1_v05 = [
    (-1.56, -0.86), (-1.34, -0.68), (-1.12, -0.53), (-1.06, -0.44), (-1.00, -0.46), (-0.94, -0.36),
    (-0.88, -0.37), (-0.82, -0.27), (-0.76, -0.29), (-0.70, -0.18), (-0.64, -0.20), (-0.58, -0.10),
    (-0.52, -0.11), (-0.46, -0.01), (-0.40, -0.03), (-0.34, 0.07), (-0.28, 0.06), (-0.22, 0.16),
    (-0.16, 0.15), (-0.10, 0.25), (-0.04, 0.23), (0.02, 0.33), (0.08, 0.32), (0.14, 0.42),
    (0.20, 0.41), (0.26, 0.51), (0.32, 0.49), (0.38, 0.59), (0.44, 0.58), (0.50, 0.68),
    (0.56, 0.67), (0.62, 0.77), (0.68, 0.75), (0.74, 0.85), (0.80, 0.84), (0.86, 0.94),
    (0.92, 0.93), (0.98, 1.03), (1.04, 1.01), (1.10, 1.12), (1.16, 1.10), (1.22, 1.20),
    (1.28, 1.19), (1.34, 1.29), (1.40, 1.27), (1.46, 1.37), (1.52, 1.36), (1.58, 1.46),
    (1.64, 1.45), (1.70, 1.55), (1.76, 1.53), (1.82, 1.63), (1.88, 1.62), (1.94, 1.72),
    (2.00, 1.71), (2.06, 1.80), (2.12, 1.79), (2.18, 1.89), (2.26, 1.94), (2.36, 1.98),
    (2.46, 2.05), (2.73, 2.35),
    (-1.09, -0.51), (-1.03, -0.43), (-0.97, -0.43), (-0.91, -0.35), (-0.85, -0.34), (-0.79, -0.26),
    (-0.73, -0.26), (-0.67, -0.17), (-0.61, -0.17), (-0.55, -0.09), (-0.49, -0.08), (-0.43, 0.00),
    (-0.37, 0.00), (-0.31, 0.09), (-0.25, 0.09), (-0.19, 0.17), (-0.13, 0.18), (-0.07, 0.26),
    (-0.01, 0.26), (0.05, 0.35), (0.11, 0.35), (0.17, 0.43), (0.23, 0.44), (0.29, 0.52),
    (0.35, 0.52), (0.41, 0.61), (0.47, 0.61), (0.53, 0.69), (0.59, 0.69), (0.65, 0.78),
    (0.71, 0.78), (0.77, 0.86), (0.83, 0.87), (0.89, 0.95), (0.95, 0.95), (1.01, 1.04),
    (1.07, 1.04), (1.13, 1.12), (1.19, 1.13), (1.25, 1.21), (1.31, 1.21), (1.37, 1.30),
    (1.43, 1.30), (1.49, 1.38), (1.55, 1.39), (1.61, 1.47), (1.67, 1.47), (1.73, 1.56),
    (1.79, 1.56), (1.85, 1.64), (1.91, 1.65), (1.97, 1.73), (2.03, 1.73), (2.09, 1.81),
    (2.15, 1.82), (2.22, 1.90), (2.31, 1.96), (2.41, 2.02),
]

dim1_vm05 = [
    (-2.69, -2.16), (-2.55, -2.04), (-2.41, -1.98), (-2.30, -1.90), (-2.17, -1.79), (-2.10, -1.72),
    (-2.04, -1.62), (-1.98, -1.63), (-1.92, -1.53), (-1.86, -1.54), (-1.80, -1.44), (-1.74, -1.45),
    (-1.68, -1.35), (-1.62, -1.36), (-1.56, -1.26), (-1.50, -1.27), (-1.44, -1.17), (-1.38, -1.18),
    (-1.32, -1.08), (-1.26, -1.09), (-1.20, -0.99), (-1.14, -1.00), (-1.08, -0.90), (-1.02, -0.91),
    (-0.96, -0.81), (-0.90, -0.82), (-0.84, -0.72), (-0.78, -0.73), (-0.72, -0.63), (-0.66, -0.64),
    (-0.60, -0.54), (-0.54, -0.55), (-0.48, -0.45), (-0.42, -0.46), (-0.36, -0.36), (-0.30, -0.37),
    (-0.24, -0.27), (-0.18, -0.28), (-0.12, -0.18), (-0.06, -0.19), (0.00, -0.09), (0.06, -0.10),
    (0.12, 0.00), (0.18, -0.01), (0.24, 0.09), (0.30, 0.08), (0.36, 0.18), (0.42, 0.17),
    (0.48, 0.27), (0.54, 0.26), (0.60, 0.36), (0.66, 0.35), (0.72, 0.45), (0.78, 0.44),
    (0.84, 0.54), (0.90, 0.53), (0.96, 0.63), (1.02, 0.62), (1.08, 0.72), (1.14, 0.71),
    (1.20, 0.81), (1.26, 0.80), (1.32, 0.90), (1.38, 0.89), (1.44, 0.98), (1.50, 0.99),
    (1.56, 1.02), (1.84, 1.23), (1.93, 1.30), (2.08, 1.42), (2.29, 1.58), (2.59, 1.75),
    (-2.13, -1.74), (-2.07, -1.65), (-2.01, -1.65), (-1.95, -1.56), (-1.89, -1.56), (-1.83, -1.47),
    (-1.77, -1.47), (-1.71, -1.38), (-1.65, -1.38), (-1.59, -1.29), (-1.53, -1.29), (-1.47, -1.20),
    (-1.41, -1.20), (-1.35, -1.11), (-1.29, -1.11), (-1.23, -1.02), (-1.17, -1.02), (-1.11, -0.93),
    (-1.05, -0.93), (-0.99, -0.84), (-0.93, -0.84), (-0.87, -0.75), (-0.81, -0.75), (-0.75, -0.66),
    (-0.69, -0.66), (-0.63, -0.57), (-0.57, -0.57), (-0.51, -0.48), (-0.45, -0.48), (-0.39, -0.39),
    (-0.33, -0.39), (-0.27, -0.30), (-0.21, -0.30), (-0.15, -0.21), (-0.09, -0.21), (-0.03, -0.12),
    (0.03, -0.12), (0.09, -0.03), (0.15, -0.03), (0.21, 0.06), (0.27, 0.06), (0.33, 0.15),
    (0.39, 0.15), (0.45, 0.24), (0.51, 0.24), (0.57, 0.33), (0.63, 0.33), (0.69, 0.42),
    (0.75, 0.42), (0.81, 0.51), (0.87, 0.51), (0.93, 0.60), (0.99, 0.60), (1.05, 0.69),
    (1.11, 0.69), (1.17, 0.78), (1.23, 0.78), (1.29, 0.87), (1.35, 0.87), (1.41, 0.96),
    (1.47, 0.96), (1.53, 1.01),
]

panels = [
    (training, "black"), (latent, "darkblue"), (prior, "darkblue"),
    (full, "black"), (dim0_v0, "black"), (dim0_v05, "black"),
    (dim1_v0, "black"), (dim1_v05, "black"), (dim1_vm05, "black"),
]

DPI = 240
fig = plt.figure(figsize=(1598 / DPI, 676 / DPI), dpi=DPI)

col_left = [0.0707, 0.3999, 0.7290]
row_bottom = [0.6612, 0.3691, 0.0769]
width, height = 0.2753, 0.2426

for i, (title, (points, color)) in enumerate(zip(titles, panels)):
    r, c = divmod(i, 3)
    ax = fig.add_axes([col_left[c], row_bottom[r], width, height])
    xs = [p[0] for p in points]
    ys = [p[1] for p in points]
    sns.scatterplot(x=xs, y=ys, ax=ax, color=color, alpha=0.5, s=22,
                    linewidth=0.5, edgecolor=color, legend=False)
    ax.set_xlim(-3, 3)
    ax.set_ylim(-3, 3)
    ax.set_xticks([-2, 0, 2])
    ax.set_yticks([-2.5, 0, 2.5])
    ax.set_title(title, fontsize=12)

fig.savefig("out.png", dpi=DPI)
